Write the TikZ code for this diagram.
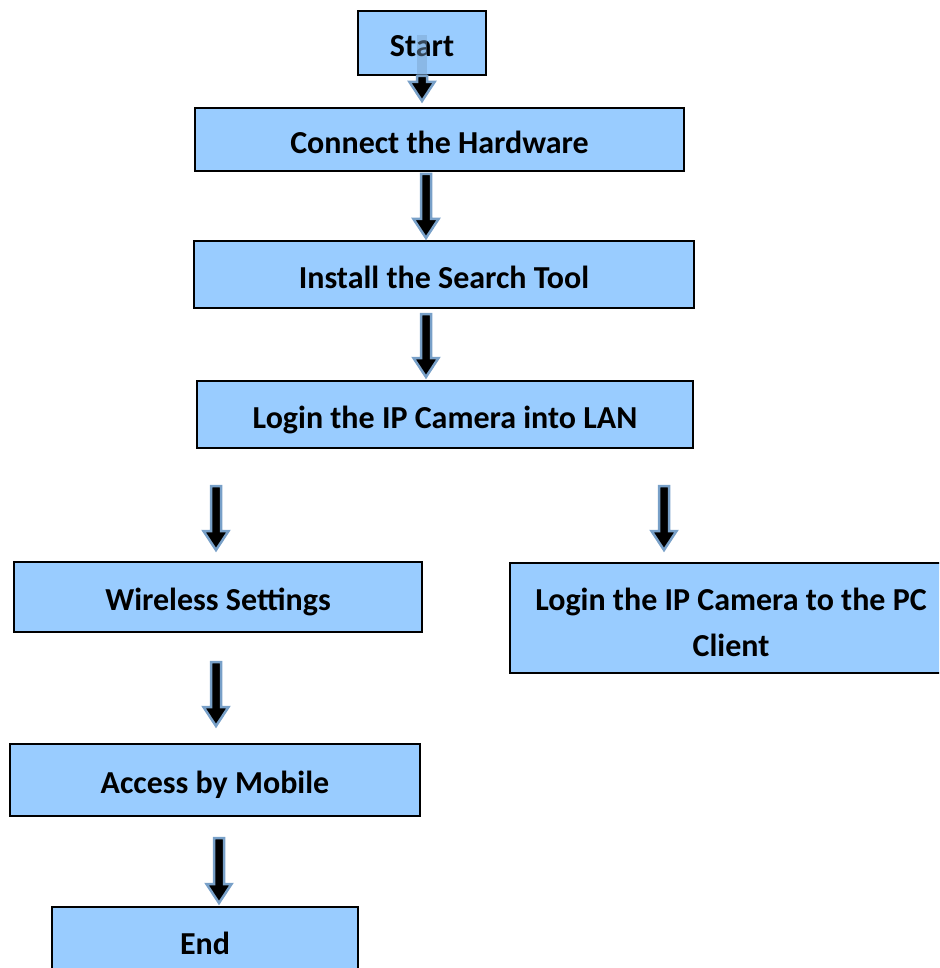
\documentclass[tikz,border=0pt]{standalone}
\usepackage{fontspec}
\setmainfont{Carlito}
\usetikzlibrary{calc}
\definecolor{boxblue}{RGB}{153,204,255}
\definecolor{arrowedge}{RGB}{120,160,200}
\tikzset{
  stepbox/.style={draw=black, line width=1.6pt, fill=boxblue, inner sep=0pt,
    font=\fontsize{32}{46}\selectfont\bfseries, align=center},
  oneline/.style={text height=27.6pt, text depth=0pt},
  barrowstyle/.style={fill=black, draw=arrowedge, line width=2.5pt, line join=miter}
}
\newcommand\barrow[2]{%
  \draw[barrowstyle] let \p1=(#1), \p2=(#2) in
    (\x1-5pt,\y1) -- (\x1-5pt,\y2+19pt) -- (\x1-12.5pt,\y2+19pt) -- (\x1,\y2)
    -- (\x1+12.5pt,\y2+19pt) -- (\x1+5pt,\y2+19pt) -- (\x1+5pt,\y1) -- cycle;}
\begin{document}
\begin{tikzpicture}[x=1pt,y=-1pt]
\useasboundingbox (0,0) rectangle (939,968);
\clip (0,0) rectangle (939,968);
\node[stepbox, oneline, minimum width=128pt, minimum height=64pt] (start) at (422,43) {Start};
\node[stepbox, oneline, minimum width=489pt, minimum height=63pt] (hw) at (439.5,139.5) {Connect the Hardware};
\node[stepbox, oneline, minimum width=500pt, minimum height=67pt] (search) at (444,274.5) {Install the Search Tool};
\node[stepbox, oneline, minimum width=496pt, minimum height=67pt] (lan) at (445,414.5) {Login the IP Camera into LAN};
\node[stepbox, oneline, minimum width=408pt, minimum height=70pt] (wifi) at (218,597) {Wireless Settings};
\node[stepbox, minimum width=442pt, minimum height=110pt] (pc) at (731,618) {\rule{0pt}{31pt}Login the IP Camera to the PC\\Client};
\node[stepbox, oneline, minimum width=410pt, minimum height=72pt] (mobile) at (215,780) {Access by Mobile};
\node[stepbox, text height=22pt, text depth=0pt, minimum width=306pt, minimum height=72pt] (end) at (205,943) {End};
% arrows
\fill[arrowedge, opacity=0.45] (417,35) rectangle (427,76);
\coordinate (a1s) at (422,76);  \coordinate (a1e) at (422,101);
\coordinate (a2s) at (426,174); \coordinate (a2e) at (426,238);
\coordinate (a3s) at (426,314); \coordinate (a3e) at (426,377);
\coordinate (a4s) at (216,486); \coordinate (a4e) at (216,550);
\coordinate (a5s) at (664,486); \coordinate (a5e) at (664,550);
\coordinate (a6s) at (216,662); \coordinate (a6e) at (216,726);
\coordinate (a7s) at (219,838); \coordinate (a7e) at (219,903);
\barrow{a1s}{a1e}
\barrow{a2s}{a2e}
\barrow{a3s}{a3e}
\barrow{a4s}{a4e}
\barrow{a5s}{a5e}
\barrow{a6s}{a6e}
\barrow{a7s}{a7e}
\end{tikzpicture}
\end{document}
